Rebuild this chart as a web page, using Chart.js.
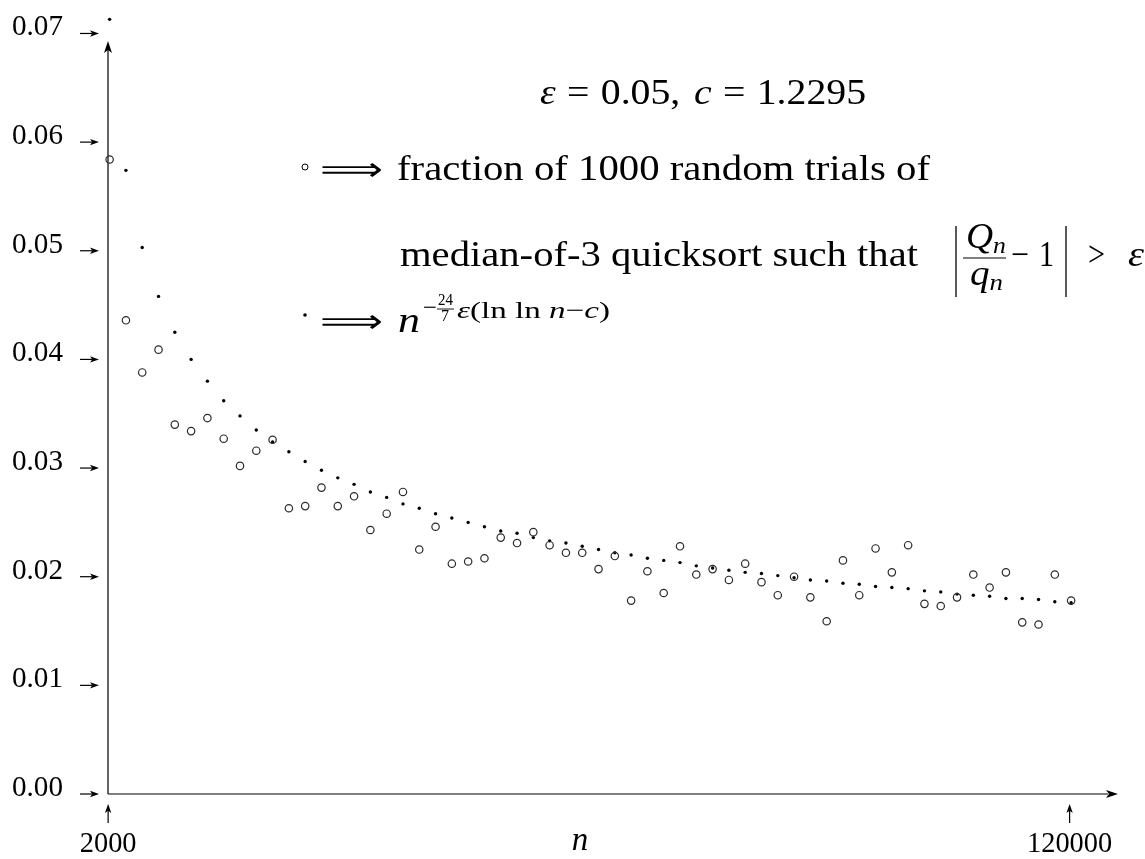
<!DOCTYPE html>
<html>
<head>
<meta charset="utf-8">
<script src="https://cdn.jsdelivr.net/npm/chart.js@4.4.1/dist/chart.umd.min.js"></script>
<style>
  html, body { margin: 0; padding: 0; background: #fff; }
  #wrap { width: 1145px; height: 859px; }
</style>
</head>
<body>
<div id="wrap"><canvas id="chart" width="1145" height="859"></canvas></div>
<script>
// ---------------------------------------------
// Data
// ---------------------------------------------
const nValues = [
  2000, 4000, 6000, 8000, 10000, 12000, 14000, 16000, 18000, 20000,
  22000, 24000, 26000, 28000, 30000, 32000, 34000, 36000, 38000, 40000,
  42000, 44000, 46000, 48000, 50000, 52000, 54000, 56000, 58000, 60000,
  62000, 64000, 66000, 68000, 70000, 72000, 74000, 76000, 78000, 80000,
  82000, 84000, 86000, 88000, 90000, 92000, 94000, 96000, 98000, 100000,
  102000, 104000, 106000, 108000, 110000, 112000, 114000, 116000, 118000, 120000
];

// o : fraction of 1000 random trials with |Qn/qn - 1| > eps
const trialFraction = [
  0.0584, 0.0436, 0.0388, 0.0409, 0.0340, 0.0334, 0.0346, 0.0327, 0.0302, 0.0316,
  0.0326, 0.0263, 0.0265, 0.0282, 0.0265, 0.0274, 0.0243, 0.0258, 0.0278, 0.0225,
  0.0246, 0.0212, 0.0214, 0.0217, 0.0236, 0.0231, 0.0241, 0.0229, 0.0222, 0.0222,
  0.0207, 0.0219, 0.0178, 0.0205, 0.0185, 0.0228, 0.0202, 0.0207, 0.0197, 0.0212,
  0.0195, 0.0183, 0.0200, 0.0181, 0.0159, 0.0215, 0.0183, 0.0226, 0.0204, 0.0229,
  0.0175, 0.0173, 0.0181, 0.0202, 0.0190, 0.0204, 0.0158, 0.0156, 0.0202, 0.0178
];

// . : n^(-24/7 eps (ln ln n - c))
const boundValues = [
  0.0713, 0.0574, 0.0503, 0.0458, 0.0425, 0.0400, 0.0380, 0.0362, 0.0348, 0.0335,
  0.0324, 0.0315, 0.0306, 0.0298, 0.0291, 0.0285, 0.0278, 0.0273, 0.0267, 0.0263,
  0.0258, 0.0254, 0.0250, 0.0246, 0.0242, 0.0240, 0.0236, 0.0233, 0.0231, 0.0228,
  0.0225, 0.0222, 0.0220, 0.0217, 0.0215, 0.0213, 0.0210, 0.0208, 0.0206, 0.0204,
  0.0203, 0.0201, 0.0199, 0.0197, 0.0196, 0.0194, 0.0193, 0.0191, 0.0190, 0.0189,
  0.0187, 0.0186, 0.0184, 0.0183, 0.0182, 0.0180, 0.0180, 0.0179, 0.0177, 0.0176
];

const yTicks = [0, 0.01, 0.02, 0.03, 0.04, 0.05, 0.06, 0.07];
const yTickLabels = ['0.00', '0.01', '0.02', '0.03', '0.04', '0.05', '0.06', '0.07'];
const xTicks = [2000, 120000];
const xTickLabels = ['2000', '120000'];

// ---------------------------------------------
// Drawing helpers
// ---------------------------------------------
const SERIF = '"Liberation Serif", "DejaVu Serif", serif';
const ARROWS = '"DejaVu Sans", "DejaVu Serif", sans-serif';
const FS = 35;          // main text size
const S = 24;           // superscript / subscript size

// LaTeX-ish arrow head, tip at (x, y)
function arrowHead(ctx, x, y, dir, len, half) {
  ctx.beginPath();
  if (dir === 'up') {
    ctx.moveTo(x, y);
    ctx.lineTo(x - half, y + len);
    ctx.lineTo(x, y + len * 0.75);
    ctx.lineTo(x + half, y + len);
  } else {
    ctx.moveTo(x, y);
    ctx.lineTo(x - len, y - half);
    ctx.lineTo(x - len * 0.75, y);
    ctx.lineTo(x - len, y + half);
  }
  ctx.closePath();
  ctx.fill();
}

function setFont(ctx, p) {
  ctx.font = (p.it ? 'italic ' : '') + p.size + 'px ' + (p.fam || SERIF);
}

// draw a run of text pieces, stretched horizontally to fill width w
function runFit(ctx, x, y, w, parts) {
  let total = 0;
  parts.forEach((p) => {
    setFont(ctx, p);
    total += ctx.measureText(p.t).width + (p.gap || 0);
  });
  const k = w / total;
  ctx.save();
  ctx.translate(x, y);
  ctx.scale(k, 1);
  let cx = 0;
  parts.forEach((p) => {
    setFont(ctx, p);
    ctx.fillText(p.t, cx, p.dy || 0);
    cx += ctx.measureText(p.t).width + (p.gap || 0);
  });
  ctx.restore();
  return x + w;
}

// long double arrow, squeezed to a given width
function implies(ctx, x, y, w) {
  ctx.save();
  ctx.font = '32px ' + ARROWS;
  const m = ctx.measureText('\u27F9').width;
  ctx.translate(x, y);
  ctx.scale(w / m, 1);
  ctx.fillText('\u27F9', 0, 0);
  ctx.restore();
}

function vbar(ctx, x, y1, y2) {
  ctx.lineWidth = 1.3;
  ctx.beginPath();
  ctx.moveTo(x, y1);
  ctx.lineTo(x, y2);
  ctx.stroke();
}

// ---------------------------------------------
// Axes + annotation plugin
// ---------------------------------------------
const axesPlugin = {
  id: 'texAxes',
  beforeDatasetsDraw(chart) {
    const { ctx, chartArea, scales } = chart;
    const x0 = chartArea.left;
    const y0 = scales.y.getPixelForValue(0);
    ctx.save();
    ctx.strokeStyle = '#000';
    ctx.fillStyle = '#000';
    ctx.lineWidth = 1.2;

    // main axes
    ctx.beginPath();
    ctx.moveTo(x0, y0);
    ctx.lineTo(x0, 50);
    ctx.moveTo(x0, y0);
    ctx.lineTo(1108, y0);
    ctx.stroke();
    arrowHead(ctx, x0, 41, 'up', 12, 4);
    arrowHead(ctx, 1118, y0, 'right', 12, 4);

    // y ticks: little arrows pointing at the axis
    ctx.textBaseline = 'alphabetic';
    yTicks.forEach((v, i) => {
      const py = scales.y.getPixelForValue(v);
      ctx.beginPath();
      ctx.moveTo(80, py);
      ctx.lineTo(92, py);
      ctx.stroke();
      arrowHead(ctx, 99, py, 'right', 9, 3.2);
      runFit(ctx, 12, py + 2, 51, [{ t: yTickLabels[i], size: 29 }]);
    });

    // x ticks: arrows pointing up at the axis
    xTicks.forEach((v, i) => {
      const px = scales.x.getPixelForValue(v) - 1.5;
      ctx.beginPath();
      ctx.moveTo(px, 823);
      ctx.lineTo(px, 810);
      ctx.stroke();
      arrowHead(ctx, px, 804, 'up', 9, 3.2);
      const w = xTickLabels[i].length * 14.2;
      runFit(ctx, px - w / 2, 852, w, [{ t: xTickLabels[i], size: 29 }]);
    });

    ctx.font = 'italic 33px ' + SERIF;
    ctx.textAlign = 'center';
    ctx.fillText('n', 580, 850);
    ctx.restore();
  },

  afterDraw(chart) {
    const { ctx } = chart;
    ctx.save();
    ctx.fillStyle = '#000';
    ctx.strokeStyle = '#000';
    ctx.textAlign = 'left';
    ctx.textBaseline = 'alphabetic';

    // line 1 (TeX-like spacing around "=")
    runFit(ctx, 540, 104, 326, [
      { t: '\u03B5', it: true, size: FS, gap: 10 },
      { t: '=', size: FS, gap: 10 },
      { t: '0.05,', size: FS, gap: 12 },
      { t: 'c', it: true, size: FS, gap: 10 },
      { t: '=', size: FS, gap: 10 },
      { t: '1.2295', size: FS },
    ]);

    // line 2: open circle legend
    ctx.lineWidth = 1;
    ctx.beginPath();
    ctx.arc(305, 167, 3, 0, Math.PI * 2);
    ctx.stroke();
    implies(ctx, 320, 180, 63);
    runFit(ctx, 397, 180, 533, [{ t: 'fraction of 1000 random trials of', size: FS }]);

    // line 3
    const base3 = 266;
    runFit(ctx, 400, base3, 518, [{ t: 'median-of-3 quicksort such that', size: FS }]);
    vbar(ctx, 956, 226, 297);
    runFit(ctx, 966, 248, 40, [
      { t: 'Q', it: true, size: FS },
      { t: 'n', it: true, size: S, dy: 5 },
    ]);
    runFit(ctx, 970, 285, 33, [
      { t: 'q', it: true, size: FS },
      { t: 'n', it: true, size: S, dy: 5 },
    ]);
    ctx.lineWidth = 1.2;
    ctx.beginPath();
    ctx.moveTo(963, 258);
    ctx.lineTo(1006, 258);
    ctx.stroke();
    runFit(ctx, 1011, base3, 18, [{ t: '\u2212', size: FS }]);
    runFit(ctx, 1039, base3, 15, [{ t: '1', size: FS }]);
    vbar(ctx, 1066, 226, 297);
    runFit(ctx, 1088, base3, 17, [{ t: '>', size: FS }]);
    runFit(ctx, 1128, base3, 16, [{ t: '\u03B5', it: true, size: FS }]);

    // line 4: dot legend and the bound formula
    ctx.beginPath();
    ctx.arc(305, 315, 1.8, 0, Math.PI * 2);
    ctx.fill();
    implies(ctx, 320, 332, 63);
    runFit(ctx, 398, 332, 22, [{ t: 'n', it: true, size: FS }]);
    runFit(ctx, 423, 315, 14, [{ t: '\u2212', size: S }]);
    runFit(ctx, 438, 305, 15, [{ t: '24', size: 17 }]);
    runFit(ctx, 441, 321, 8, [{ t: '7', size: 17 }]);
    ctx.lineWidth = 0.9;
    ctx.beginPath();
    ctx.moveTo(437, 309);
    ctx.lineTo(454, 309);
    ctx.stroke();
    runFit(ctx, 457, 318, 153, [
      { t: '\u03B5', it: true, size: S },
      { t: '(ln ln ', size: S },
      { t: 'n', it: true, size: S },
      { t: '\u2212', size: S },
      { t: 'c', it: true, size: S },
      { t: ')', size: S },
    ]);

    ctx.restore();
  },
};

// ---------------------------------------------
// Chart
// ---------------------------------------------
const fractionPoints = nValues.map((n, i) => ({ x: n, y: trialFraction[i] }));
const boundPoints = nValues.map((n, i) => ({ x: n, y: boundValues[i] }));

new Chart(document.getElementById('chart'), {
  type: 'scatter',
  data: {
    datasets: [
      {
        label: 'fraction of 1000 random trials',
        data: fractionPoints,
        pointStyle: 'circle',
        pointRadius: 3.7,
        pointBorderWidth: 1.2,
        pointBorderColor: '#2a2a2a',
        pointBackgroundColor: 'rgba(255,255,255,0)',
        clip: false,
      },
      {
        label: 'bound',
        data: boundPoints,
        pointStyle: 'circle',
        pointRadius: 1.7,
        pointBorderWidth: 0,
        pointBackgroundColor: '#000',
        clip: false,
      },
    ],
  },
  options: {
    responsive: false,
    animation: false,
    devicePixelRatio: 1,
    events: [],
    layout: { padding: { left: 108, right: 25, top: 15, bottom: 65 } },
    plugins: {
      legend: { display: false },
      tooltip: { enabled: false },
    },
    scales: {
      x: { type: 'linear', min: 1800, max: 126000, display: false },
      y: { type: 'linear', min: 0, max: 0.0717, display: false },
    },
  },
  plugins: [axesPlugin],
});
</script>
</body>
</html>
